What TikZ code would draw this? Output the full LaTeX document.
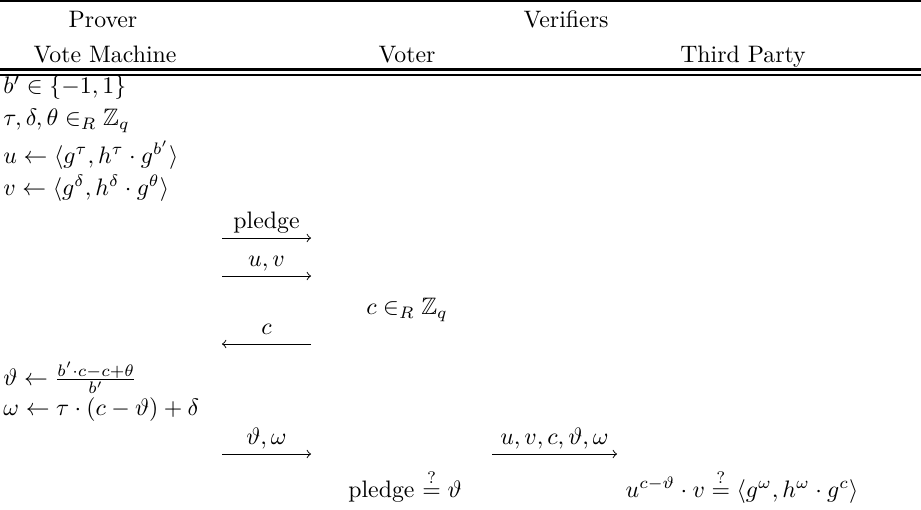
\documentclass[tikz,border=0pt]{standalone}
\usepackage{amsmath,amssymb}
\begin{document}
\begin{tikzpicture}[x=0.42pt,y=-0.42pt,
  txt/.style={inner sep=0pt},
  lft/.style={inner sep=0pt,anchor=west},
  lbl/.style={inner sep=0pt,anchor=base},
  msg/.style={line width=0.4pt,->},
  toprule/.style={line width=1pt},
  thinrule/.style={line width=0.7pt}]
\useasboundingbox (0,0) rectangle (921,509);
% rules
\draw[toprule] (0,1.2) -- (921,1.2);
\draw[toprule] (0,69.5) -- (921,69.5);
\draw[thinrule] (0,75) -- (921,75);
% header
\node[lbl] (hprov) at (103,27) {Prover};
\node[lbl] (hver) at (566,27) {Verifiers};
\node[lbl] (hvm) at (105,62) {Vote Machine};
\node[lbl] (hvoter) at (407,62) {Voter};
\node[lbl] (htp) at (743,62) {Third Party};
% prover computations
\node[lft] (r1) at (3,88) {$b'\in\{-1,1\}$};
\node[lft] (r2) at (3,121) {$\tau,\delta,\theta\in_R\mathbb{Z}_q$};
\node[lft] (r3) at (3,155) {$u\leftarrow\langle g^{\tau},h^{\tau}\cdot g^{b'}\rangle$};
\node[lft] (r4) at (3,188) {$v\leftarrow\langle g^{\delta},h^{\delta}\cdot g^{\theta}\rangle$};
% message 1: pledge
\coordinate (m1s) at (222,238);
\coordinate (m1e) at (311,238);
\draw[msg] (m1s) -- (m1e);
\node[lbl] (l1) at (266.5,228.5) {pledge};
% message 2: u,v
\coordinate (m2s) at (222,276);
\coordinate (m2e) at (311,276);
\draw[msg] (m2s) -- (m2e);
\node[lbl] (l2) at (266.5,266.5) {$u,v$};
% voter challenge
\node[txt] (vc) at (407,310) {$c\in_R\mathbb{Z}_q$};
% message 3: c
\coordinate (m3s) at (311,344);
\coordinate (m3e) at (222,344);
\draw[msg] (m3s) -- (m3e);
\node[lbl] (l3) at (266.5,334.5) {$c$};
% prover response
\node[lft] (r5) at (3,378) {$\vartheta\leftarrow\frac{b'\cdot c-c+\theta}{b'}$};
\node[lft] (r6) at (3,410) {$\omega\leftarrow\tau\cdot(c-\vartheta)+\delta$};
% message 4: theta, omega
\coordinate (m4s) at (222,454);
\coordinate (m4e) at (311,454);
\draw[msg] (m4s) -- (m4e);
\node[lbl] (l4) at (266.5,444.5) {$\vartheta,\omega$};
% message 5 to third party
\coordinate (m5s) at (492,454);
\coordinate (m5e) at (617,454);
\draw[msg] (m5s) -- (m5e);
\node[lbl] (l5) at (554.5,444.5) {$u,v,c,\vartheta,\omega$};
% checks
\node[lbl] (chk1) at (405,497) {pledge $\stackrel{?}{=}\vartheta$};
\node[lbl] (chk2) at (742,497) {$u^{c-\vartheta}\cdot v\stackrel{?}{=}\langle g^{\omega},h^{\omega}\cdot g^{c}\rangle$};
\end{tikzpicture}
\end{document}
